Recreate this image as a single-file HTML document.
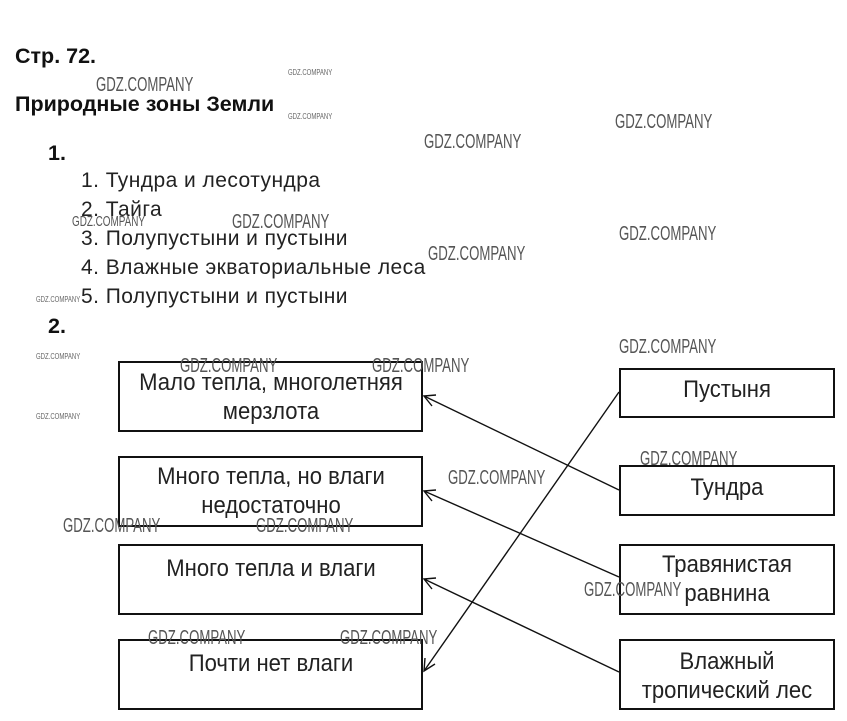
<!DOCTYPE html>
<html><head><meta charset="utf-8"><style>
body{margin:0;width:847px;height:721px;background:#fff;position:relative;font-family:"Liberation Sans","DejaVu Sans",sans-serif;overflow:hidden}
.t{position:absolute;white-space:nowrap;color:#111}
.b{font-weight:bold;font-size:21.5px}
.l{font-size:21px;color:#222;letter-spacing:0.45px}
.box{position:absolute;border:2px solid #111;box-sizing:border-box;font-size:24px;color:#222;line-height:29px}
.box div{position:absolute;left:50%;white-space:nowrap;transform:translateX(-50%) scaleX(0.92);text-align:center}
.w{position:absolute;color:#555;font-size:20px;transform:scaleX(0.66);transform-origin:left top;white-space:nowrap}
.ws{position:absolute;color:#666;font-size:8px;transform:scaleX(0.75);transform-origin:left top;white-space:nowrap}
</style></head><body>
<div class="t b" style="left:15px;top:44px">Стр. 72.</div>
<div class="t b" style="left:15px;top:92px">Природные зоны Земли</div>
<div class="t b" style="left:48px;top:141px">1.</div>
<div class="t l" style="left:81px;top:169px">1. Тундра и лесотундра</div>
<div class="t l" style="left:81px;top:198px">2. Тайга</div>
<div class="t l" style="left:81px;top:227px">3. Полупустыни и пустыни</div>
<div class="t l" style="left:81px;top:256px">4. Влажные экваториальные леса</div>
<div class="t l" style="left:81px;top:285px">5. Полупустыни и пустыни</div>
<div class="t b" style="left:48px;top:314px">2.</div>

<div class="box" style="left:118px;top:361px;width:305px;height:71px"><div style="top:5px">Мало тепла, многолетняя<br>мерзлота</div></div>
<div class="box" style="left:118px;top:456px;width:305px;height:71px"><div style="top:4px">Много тепла, но влаги<br>недостаточно</div></div>
<div class="box" style="left:118px;top:544px;width:305px;height:71px"><div style="top:8px">Много тепла и влаги</div></div>
<div class="box" style="left:118px;top:639px;width:305px;height:71px"><div style="top:8px">Почти нет влаги</div></div>

<div class="box" style="left:619px;top:368px;width:216px;height:50px"><div style="top:5px">Пустыня</div></div>
<div class="box" style="left:619px;top:465px;width:216px;height:51px"><div style="top:6px">Тундра</div></div>
<div class="box" style="left:619px;top:544px;width:216px;height:71px"><div style="top:4px">Травянистая<br>равнина</div></div>
<div class="box" style="left:619px;top:639px;width:216px;height:71px"><div style="top:6px">Влажный<br>тропический лес</div></div>

<svg style="position:absolute;left:0;top:0" width="847" height="721">
<g stroke="#111" stroke-width="1.4" fill="none">
<line x1="619" y1="490" x2="424" y2="396"/><polyline points="436,395 424,396 432,406"/>
<line x1="619" y1="577" x2="424" y2="491"/><polyline points="436,490 424,491 432,501"/>
<line x1="619" y1="672" x2="424" y2="579"/><polyline points="436,578 424,579 432,589"/>
<line x1="619" y1="392" x2="424" y2="671"/><polyline points="425,658 424,671 435,664"/>
</g></svg>

<div class="w" style="left:96px;top:74px">GDZ.COMPANY</div>
<div class="ws" style="left:288px;top:68px">GDZ.COMPANY</div>
<div class="ws" style="left:288px;top:112px">GDZ.COMPANY</div>
<div class="w" style="left:424px;top:131px">GDZ.COMPANY</div>
<div class="w" style="left:615px;top:111px">GDZ.COMPANY</div>
<div class="w" style="left:72px;top:213px;font-size:15px">GDZ.COMPANY</div>
<div class="w" style="left:232px;top:211px">GDZ.COMPANY</div>
<div class="w" style="left:428px;top:243px">GDZ.COMPANY</div>
<div class="w" style="left:619px;top:223px">GDZ.COMPANY</div>
<div class="ws" style="left:36px;top:295px">GDZ.COMPANY</div>
<div class="w" style="left:619px;top:336px">GDZ.COMPANY</div>
<div class="ws" style="left:36px;top:352px">GDZ.COMPANY</div>
<div class="w" style="left:180px;top:355px">GDZ.COMPANY</div>
<div class="w" style="left:372px;top:355px">GDZ.COMPANY</div>
<div class="ws" style="left:36px;top:412px">GDZ.COMPANY</div>
<div class="w" style="left:640px;top:448px">GDZ.COMPANY</div>
<div class="w" style="left:448px;top:467px">GDZ.COMPANY</div>
<div class="w" style="left:63px;top:515px">GDZ.COMPANY</div>
<div class="w" style="left:256px;top:515px">GDZ.COMPANY</div>
<div class="w" style="left:584px;top:579px">GDZ.COMPANY</div>
<div class="w" style="left:148px;top:627px">GDZ.COMPANY</div>
<div class="w" style="left:340px;top:627px">GDZ.COMPANY</div>
</body></html>
